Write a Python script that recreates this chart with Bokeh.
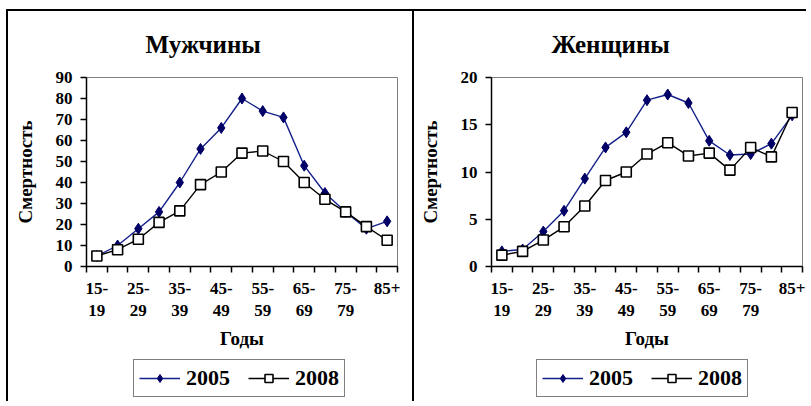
from bokeh.plotting import figure
from bokeh.layouts import row, column
from bokeh.models import Range1d, FixedTicker, Legend, LegendItem, Spacer
from bokeh.embed import file_html
from bokeh.resources import INLINE

ages = ["15-19", "20-24", "25-29", "30-34", "35-39", "40-44", "45-49", "50-54",
        "55-59", "60-64", "65-69", "70-74", "75-79", "80-84", "85+"]
men_2005 = [5, 10, 18, 26, 40, 56, 66, 80, 74, 71, 48, 35, 26, 18, 21.5]
men_2008 = [5, 8, 13, 21, 26.5, 39, 45, 54, 55, 50, 40, 32, 26, 19, 12.5]
women_2005 = [1.6, 1.8, 3.7, 5.9, 9.3, 12.6, 14.2, 17.6, 18.2, 17.3, 13.3, 11.8, 11.9, 13.0, 16.0]
women_2008 = [1.2, 1.6, 2.8, 4.2, 6.4, 9.1, 10.0, 11.9, 13.1, 11.7, 12.0, 10.2, 12.6, 11.6, 16.3]
years = ["2005", "2008"]

FONT = "Liberation Serif"
NAVY_LINE = "#14208a"
NAVY_MARK = "#000066"
CH = 345   # chart figure height
LH = 47    # legend figure height
BORDER = "2px solid black"


def draw_series(p, xs, s05, s08):
    l1 = p.line(xs, s05, line_color=NAVY_LINE, line_width=1.4)
    m1 = p.scatter(xs, s05, marker="diamond", size=11, fill_color=NAVY_MARK,
                   line_color=NAVY_MARK)
    l2 = p.line(xs, s08, line_color="black", line_width=1.4)
    m2 = p.scatter(xs, s08, marker="square", size=10, fill_color="white",
                   line_color="black", line_width=1.6)
    return l1, m1, l2, m2


def make_panel(title, ymax, ystep, s05, s08, width, mb_left, mb_right, title_offset,
               legend_x, top_styles, bottom_styles):
    xs = list(range(1, len(ages) + 1))
    p = figure(width=width, height=CH, output_backend="svg", toolbar_location=None,
               x_range=Range1d(0.5, len(ages) + 0.5), y_range=Range1d(0, ymax),
               min_border_left=mb_left, min_border_right=mb_right,
               min_border_top=66, min_border_bottom=CH - 255,
               background_fill_color="white", border_fill_color="white",
               styles=top_styles)
    p.outline_line_color = "#7f7f7f"
    p.outline_line_width = 1
    p.xgrid.visible = False
    p.ygrid.visible = False

    p.title.text = title
    p.title.align = "left"
    p.title.vertical_align = "top"
    p.title.offset = title_offset
    p.title.text_font = FONT
    p.title.text_font_size = "25px"
    p.title.text_font_style = "bold"
    p.title.text_color = "black"
    p.title.standoff = 36

    draw_series(p, xs, s05, s08)

    # x axis
    ax = p.xaxis[0]
    ax.ticker = FixedTicker(ticks=xs[::2], minor_ticks=[x - 0.5 for x in xs] + [xs[-1] + 0.5])
    ax.major_label_overrides = {xs[i]: ages[i].replace("-", "-\n") for i in range(0, len(ages), 2)}
    ax.major_tick_out = 0
    ax.major_tick_in = 0
    ax.minor_tick_out = 6
    ax.minor_tick_in = 0
    ax.minor_tick_line_color = "black"
    ax.minor_tick_line_width = 1.5
    ax.axis_line_color = "black"
    ax.axis_line_width = 1.5
    ax.major_label_standoff = 6
    ax.major_label_text_font = FONT
    ax.major_label_text_font_size = "17px"
    ax.major_label_text_font_style = "bold"
    ax.major_label_text_color = "black"
    ax.axis_label = "Годы"
    ax.axis_label_text_font = FONT
    ax.axis_label_text_font_size = "19px"
    ax.axis_label_text_font_style = "bold"
    ax.axis_label_text_color = "black"
    ax.axis_label_standoff = 5

    # y axis
    ay = p.yaxis[0]
    ay.ticker = FixedTicker(ticks=list(range(0, ymax + 1, ystep)), minor_ticks=[])
    ay.major_tick_out = 6
    ay.major_tick_in = 0
    ay.major_tick_line_color = "black"
    ay.major_tick_line_width = 1.5
    ay.axis_line_color = "black"
    ay.axis_line_width = 1.5
    ay.major_label_standoff = 8
    ay.major_label_text_font = FONT
    ay.major_label_text_font_size = "17px"
    ay.major_label_text_font_style = "bold"
    ay.major_label_text_color = "black"
    ay.axis_label = "Смертность"
    ay.axis_label_text_font = FONT
    ay.axis_label_text_font_size = "19px"
    ay.axis_label_text_font_style = "bold"
    ay.axis_label_text_color = "black"
    ay.axis_label_standoff = 17

    # legend in its own small figure (series drawn off-range, only legend shows)
    q = figure(width=width, height=LH, output_backend="svg", toolbar_location=None,
               x_range=Range1d(-20, -19), y_range=Range1d(-20, -19),
               x_axis_type=None, y_axis_type=None,
               min_border_left=0, min_border_right=0, min_border_top=0,
               min_border_bottom=0, background_fill_color="white",
               border_fill_color="white", styles=bottom_styles)
    q.outline_line_color = None
    q.xgrid.visible = False
    q.ygrid.visible = False
    l1, m1, l2, m2 = draw_series(q, xs, s05, s08)
    legend = Legend(items=[LegendItem(label=years[0], renderers=[l1, m1]),
                           LegendItem(label=years[1], renderers=[l2, m2])],
                    orientation="horizontal", location=(legend_x, 4))
    legend.border_line_color = "black"
    legend.border_line_width = 1.5
    legend.background_fill_color = "white"
    legend.background_fill_alpha = 1
    legend.label_text_font = FONT
    legend.label_text_font_size = "22px"
    legend.label_text_font_style = "bold"
    legend.label_text_color = "black"
    legend.glyph_width = 41
    legend.glyph_height = 20
    legend.padding = 5
    legend.spacing = 18
    legend.margin = 0
    legend.label_standoff = 6
    q.add_layout(legend)
    return column(p, q, spacing=0)


c1 = make_panel("Мужчины", 90, 10, men_2005, men_2008, 406, 78, 17, 59, 47,
                {"border-top": BORDER, "border-left": BORDER}, {"border-left": BORDER})
c2 = make_panel("Женщины", 20, 5, women_2005, women_2008, 394, 77, 6, 60, 45,
                {"border-top": BORDER, "border-left": BORDER}, {"border-left": BORDER})
layout = column(Spacer(width=10, height=9),
                row(Spacer(width=6, height=10), c1, c2, spacing=0), spacing=0)

open("out.html", "w").write(file_html(layout, INLINE))
